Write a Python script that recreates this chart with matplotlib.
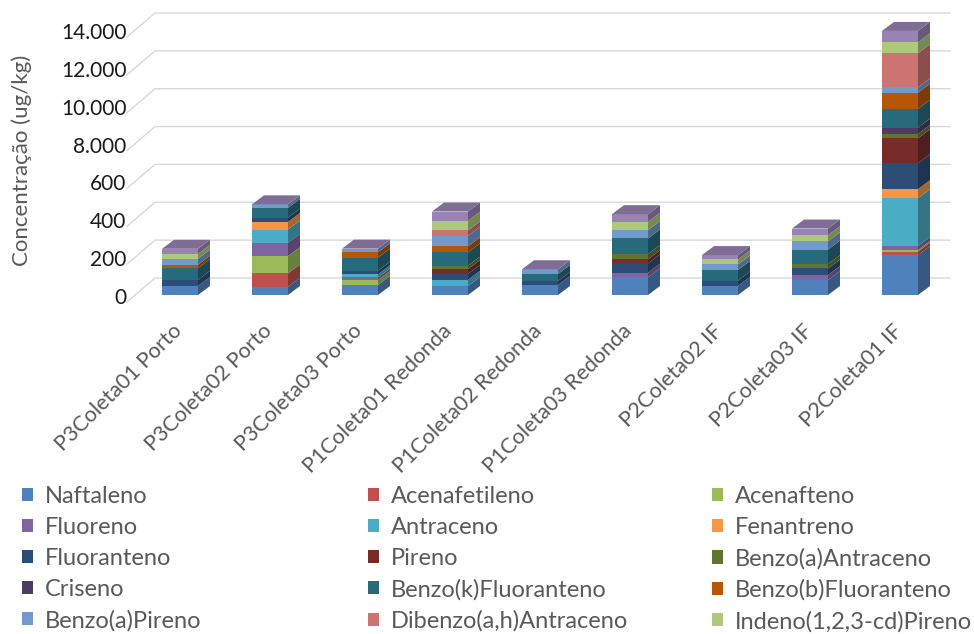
import matplotlib
matplotlib.use("Agg")
import matplotlib.pyplot as plt
from matplotlib.patches import Polygon, Patch
from matplotlib.transforms import ScaledTranslation
import matplotlib.colors as mcolors
import numpy as np

# ---------------- data ----------------
categories = ["P3Coleta01 Porto", "P3Coleta02 Porto", "P3Coleta03 Porto",
              "P1Coleta01 Redonda", "P1Coleta02 Redonda", "P1Coleta03 Redonda",
              "P2Coleta02 IF", "P2Coleta03 IF", "P2Coleta01 IF"]

series_names = ["Naftaleno", "Acenafetileno", "Acenafteno", "Fluoreno", "Antraceno",
                "Fenantreno", "Fluoranteno", "Pireno", "Benzo(a)Antraceno", "Criseno",
                "Benzo(k)Fluoranteno", "Benzo(b)Fluoranteno", "Benzo(a)Pireno",
                "Dibenzo(a,h)Antraceno", "Indeno(1,2,3-cd)Pireno", "Benzo(g,h,i)Perileno"]

naftaleno = [48, 44, 53, 48, 53, 93, 48, 79, 211]
acenafetileno = [0, 70, 0, 0, 0, 0, 0, 0, 18]
acenafteno = [0, 92, 26, 0, 0, 0, 0, 0, 9]
fluoreno = [0, 70, 14, 0, 0, 25, 0, 26, 21]
antraceno = [0, 70, 16, 32, 0, 0, 0, 0, 252]
fenantreno = [0, 40, 0, 0, 0, 0, 0, 0, 48]
fluoranteno = [32, 23, 19, 32, 21, 49, 28, 35, 137]
pireno = [0, 0, 0, 25, 0, 21, 0, 0, 132]
benzo_a_antraceno = [0, 0, 0, 18, 0, 28, 0, 23, 23]
criseno = [0, 0, 0, 0, 0, 0, 0, 0, 33]
benzo_k_fluoranteno = [62, 51, 70, 70, 37, 83, 56, 77, 99]
benzo_b_fluoranteno = [18, 0, 28, 32, 0, 0, 0, 0, 86]
benzo_a_pireno = [32, 19, 19, 56, 25, 44, 30, 44, 28]
dibenzo_ah_antraceno = [0, 0, 0, 28, 0, 0, 0, 0, 180]
indeno_pireno = [26, 0, 0, 51, 0, 44, 26, 32, 58]
benzo_ghi_perileno = [26, 0, 0, 49, 0, 40, 23, 35, 60]

series_values = [naftaleno, acenafetileno, acenafteno, fluoreno, antraceno,
                 fenantreno, fluoranteno, pireno, benzo_a_antraceno, criseno,
                 benzo_k_fluoranteno, benzo_b_fluoranteno, benzo_a_pireno,
                 dibenzo_ah_antraceno, indeno_pireno, benzo_ghi_perileno]

tick_values = [0, 200, 400, 600, 800, 1000, 1200, 1400]
tick_labels = ["0", "200", "400", "600", "8.000", "10.000", "12.000", "14.000"]

# ---------------- style ----------------
colors = ["#4F81BD", "#C0504D", "#9BBB59", "#8064A2", "#4BACC6", "#F79646",
          "#2C4D75", "#772C2A", "#5F7530", "#4D3B62", "#276A7C", "#B65708",
          "#729ACA", "#CD7371", "#AFC97A", "#9983B5"]

plt.rcParams["font.family"] = ["Lato", "DejaVu Sans"]

W, H = 974, 634
fig = plt.figure(figsize=(W / 100, H / 100), dpi=100)

# pixel layout of the front plane
x0_px, x_step_px = 180.0, 90.0         # category 0 centre, px per category
y0_px, k_px = 295.0, 37.86 / 200.0     # value 0 row (from top), px per value unit
ax_left_px, ax_bottom_px = 128.0, 318.0
ax = fig.add_axes([ax_left_px / W, (H - ax_bottom_px) / H,
                   (W - ax_left_px) / W, ax_bottom_px / H])
ax.set_xlim((ax_left_px - x0_px) / x_step_px, (W - x0_px) / x_step_px)
ax.set_ylim((y0_px - ax_bottom_px) / k_px, y0_px / k_px)
for s in ax.spines.values():
    s.set_visible(False)


def px_dx(p):
    return p / x_step_px


def px_dy(p):
    return p / k_px


# walls / gridlines
grid_c = "#D9D9D9"
xl_front, xl_back = px_dx(127 - x0_px), px_dx(155 - x0_px)
x_right = px_dx(950 - x0_px)
dy_front, dy_back = -px_dy(7), px_dy(17)
for v in tick_values:
    ax.plot([xl_front, xl_back, x_right], [v + dy_front, v + dy_back, v + dy_back],
            color=grid_c, lw=1.0, zorder=0, solid_joinstyle="miter", clip_on=False)

# bars
x = np.arange(len(categories))
bw = 36.0 / x_step_px
ddx, ddy = px_dx(12), px_dy(9)


def shade(c, f):
    r, g, b = mcolors.to_rgb(c)
    return (r * f, g * f, b * f)


bottom = np.zeros(len(categories))
for i, (vals, c) in enumerate(zip(series_values, colors)):
    vals = np.asarray(vals, dtype=float)
    ax.bar(x, vals, bw, bottom=bottom, color=c, zorder=2, linewidth=0)
    for j in range(len(x)):
        if vals[j] <= 0:
            continue
        xr = x[j] + bw / 2
        y0, y1 = bottom[j], bottom[j] + vals[j]
        ax.add_patch(Polygon([(xr, y0), (xr + ddx, y0 + ddy), (xr + ddx, y1 + ddy), (xr, y1)],
                             closed=True, facecolor=shade(c, 0.68), edgecolor="none", zorder=2))
    bottom = bottom + vals

# top faces (coloured by last series, as Excel draws zero-height boxes too)
for j in range(len(x)):
    xl, xr = x[j] - bw / 2, x[j] + bw / 2
    t = bottom[j]
    ax.add_patch(Polygon([(xl, t), (xr, t), (xr + ddx, t + ddy), (xl + ddx, t + ddy)],
                         closed=True, facecolor=shade(colors[-1], 0.83), edgecolor="none", zorder=3))

# y ticks
ax.set_yticks(tick_values, tick_labels)
ax.tick_params(axis="y", length=0, pad=1, labelsize=15, labelcolor="#1a1a1a")
for lab in ax.get_yticklabels():
    lab.set_horizontalalignment("right")
    lab.set_transform(lab.get_transform() + ScaledTranslation(0, -1 / 100, fig.dpi_scale_trans))

# x ticks
ax.set_xticks(x, categories)
ax.tick_params(axis="x", length=0, pad=2, labelsize=15.5, labelcolor="#595959")
for lab in ax.get_xticklabels():
    lab.set_rotation(45)
    lab.set_ha("right")
    lab.set_va("top")
    lab.set_rotation_mode("anchor")
    lab.set_transform(lab.get_transform() + ScaledTranslation(-8 / 100, 0, fig.dpi_scale_trans))

fig.text(22 / W, 1 - 160 / H, "Concentração (ug/kg)", rotation=90, ha="center", va="center",
         fontsize=16, color="#595959")

# legend: three columns, row-major order as in the reference
col_x = [22, 368, 712]
for col in range(3):
    idx = list(range(col, 15, 3))
    handles = [Patch(facecolor=colors[i], edgecolor="none") for i in idx]
    leg = fig.legend(handles, [series_names[i] for i in idx], loc="upper left",
                     bbox_to_anchor=(col_x[col] / W, 1 - 486 / H), frameon=False,
                     fontsize=17, handlelength=0.48, handleheight=0.48, handletextpad=0.5,
                     labelspacing=0.42, borderaxespad=0, borderpad=0)
    for t in leg.get_texts():
        t.set_color("#595959")

fig.savefig("out.png", dpi=100)
